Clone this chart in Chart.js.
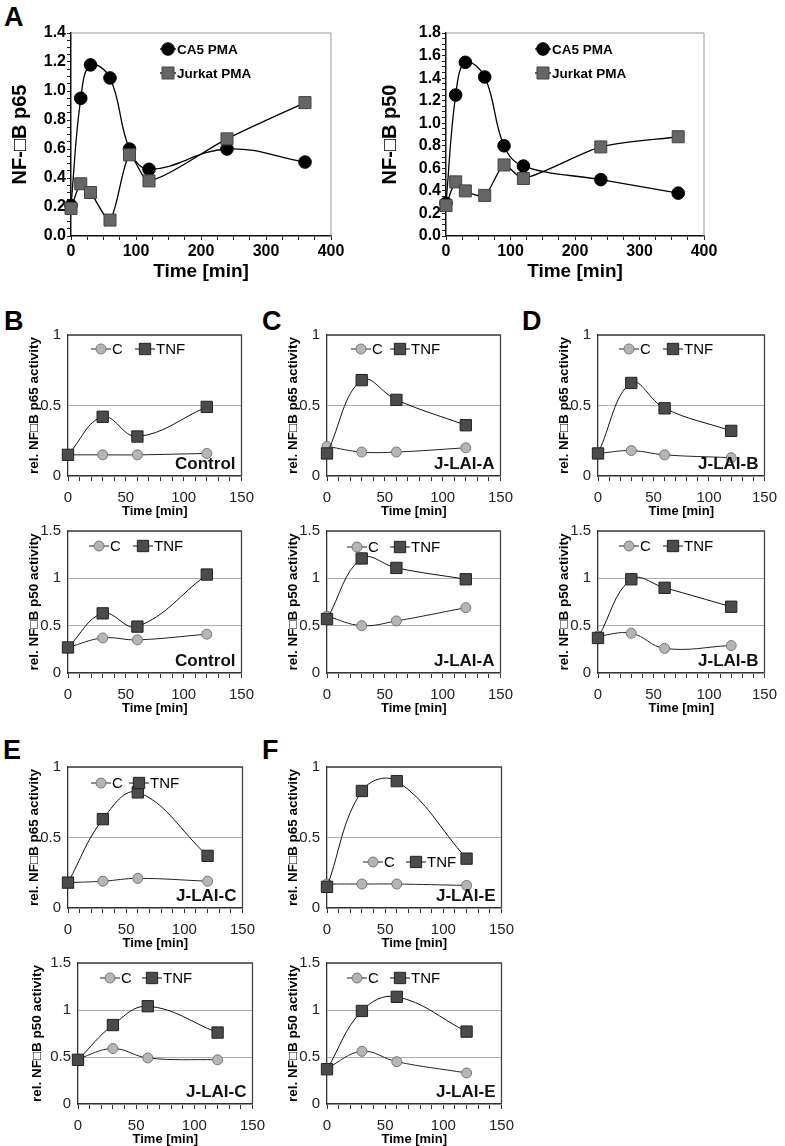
<!DOCTYPE html>
<html>
<head>
<meta charset="utf-8">
<script src="https://cdn.jsdelivr.net/npm/chart.js@4.4.1/dist/chart.umd.min.js"></script>
<style>
body{margin:0;background:#fff;}
#fig{position:relative;width:785px;height:1146px;overflow:hidden;background:#fff;}
.lab{position:absolute;font:bold 27px "Liberation Sans",Arial,sans-serif;line-height:1;color:#000;}
canvas{position:absolute;}
</style>
</head>
<body>
<div id="fig">
<div class="lab" style="left:4px;top:4px">A</div>
<div class="lab" style="left:4px;top:308px">B</div>
<div class="lab" style="left:262px;top:308px">C</div>
<div class="lab" style="left:522px;top:308px">D</div>
<div class="lab" style="left:3px;top:737px">E</div>
<div class="lab" style="left:262px;top:737px">F</div>
</div>
<script>
// panel A: PMA time course
var timeA = [0, 15, 30, 60, 90, 120, 240, 360];
var ca5P65 = [0.21, 0.95, 1.18, 1.09, 0.60, 0.46, 0.60, 0.51];
var jurkatP65 = [0.19, 0.36, 0.30, 0.11, 0.56, 0.38, 0.67, 0.92];
var ca5P50 = [0.29, 1.25, 1.54, 1.41, 0.80, 0.62, 0.50, 0.38];
var jurkatP50 = [0.27, 0.48, 0.40, 0.36, 0.63, 0.51, 0.79, 0.88];

// panels B-F: TNF time course
var timeTnf = [0, 30, 60, 120];
var controlP65C = [0.15, 0.15, 0.15, 0.16];
var controlP65T = [0.15, 0.42, 0.28, 0.49];
var controlP50C = [0.27, 0.37, 0.35, 0.41];
var controlP50T = [0.27, 0.63, 0.49, 1.04];
var laiAP65C = [0.21, 0.17, 0.17, 0.20];
var laiAP65T = [0.16, 0.68, 0.54, 0.36];
var laiAP50C = [0.60, 0.50, 0.55, 0.69];
var laiAP50T = [0.57, 1.21, 1.11, 0.99];
var laiBP65C = [0.16, 0.18, 0.15, 0.13];
var laiBP65T = [0.16, 0.66, 0.48, 0.32];
var laiBP50C = [0.39, 0.42, 0.26, 0.29];
var laiBP50T = [0.37, 0.99, 0.90, 0.70];
var laiCP65C = [0.18, 0.19, 0.21, 0.19];
var laiCP65T = [0.18, 0.63, 0.82, 0.37];
var laiCP50C = [0.48, 0.59, 0.49, 0.47];
var laiCP50T = [0.47, 0.84, 1.04, 0.76];
var laiEP65C = [0.17, 0.17, 0.17, 0.16];
var laiEP65T = [0.15, 0.83, 0.90, 0.35];
var laiEP50C = [0.38, 0.56, 0.45, 0.33];
var laiEP50T = [0.37, 0.99, 1.14, 0.77];

var FONT = '"Liberation Sans", Arial, sans-serif';

function pts(xs, ys) {
  return xs.map(function(x, i) { return {x: x, y: ys[i]}; });
}

function isStep(v, step) {
  var q = v / step;
  return Math.abs(q - Math.round(q)) < 1e-6;
}

function drawMarker(ctx, ds, x, y) {
  ctx.fillStyle = ds.pointBackgroundColor;
  ctx.strokeStyle = ds.pointBorderColor;
  ctx.lineWidth = ds.pointBorderWidth;
  ctx.beginPath();
  if (ds.pointStyle == 'rect') {
    var s = ds.pointRadius * Math.SQRT1_2;
    ctx.rect(x - s, y - s, 2 * s, 2 * s);
  } else {
    ctx.arc(x, y, ds.pointRadius, 0, Math.PI * 2);
  }
  ctx.fill();
  ctx.stroke();
}

// frame, inside legend and sample tag
var deco = {
  id: 'deco',
  beforeDatasetsDraw: function(chart, args, o) {
    var a = chart.chartArea, ctx = chart.ctx;
    ctx.save();
    ctx.strokeStyle = o.frameColor;
    ctx.lineWidth = o.frameWidth;
    ctx.beginPath();
    ctx.moveTo(a.left, a.top);
    ctx.lineTo(a.right, a.top);
    ctx.lineTo(a.right, a.bottom);
    ctx.stroke();
    ctx.restore();
  },
  afterDatasetsDraw: function(chart, args, o) {
    var a = chart.chartArea, ctx = chart.ctx;
    ctx.save();
    (o.items || []).forEach(function(it) {
      var ds = chart.data.datasets[it.ds];
      var x = a.left + it.x, y = a.top + it.y;
      ctx.strokeStyle = ds.borderColor;
      ctx.lineWidth = ds.borderWidth;
      ctx.beginPath();
      ctx.moveTo(x - o.lineLen, y);
      ctx.lineTo(x + o.lineLen, y);
      ctx.stroke();
      drawMarker(ctx, ds, x, y);
      ctx.fillStyle = '#000';
      ctx.font = o.legendFont;
      ctx.textAlign = 'left';
      ctx.textBaseline = 'middle';
      ctx.fillText(ds.label, x + o.textGap, y + 1);
    });
    if (o.tag) {
      ctx.fillStyle = '#111';
      ctx.font = 'bold 17px ' + FONT;
      ctx.textAlign = 'right';
      ctx.textBaseline = 'middle';
      ctx.fillText(o.tag, a.right - 6, a.bottom - 12);
    }
    ctx.restore();
  }
};

function addCanvas(plot, L, T, R, B) {
  var w = plot[2] - plot[0] + L + R;
  var h = plot[3] - plot[1] + T + B;
  var canvas = document.createElement('canvas');
  canvas.width = w;
  canvas.height = h;
  canvas.style.left = (plot[0] - L) + 'px';
  canvas.style.top = (plot[1] - T) + 'px';
  canvas.style.width = w + 'px';
  canvas.style.height = h + 'px';
  document.getElementById('fig').appendChild(canvas);
  return canvas;
}

function bigPanel(p) {
  var L = p.L, T = 33, R = p.R, B = 54;
  var canvas = addCanvas(p.plot, L, T, R, B);
  new Chart(canvas, {
    type: 'line',
    data: { datasets: [
      { label: 'Jurkat PMA', data: pts(timeA, p.jurkat), borderColor: '#000', borderWidth: 1.3, tension: 0.25,
        pointStyle: 'rect', pointRadius: 8.5, pointHoverRadius: 8.5, pointBackgroundColor: '#666',
        pointBorderColor: '#444', pointBorderWidth: 1, clip: false },
      { label: 'CA5 PMA', data: pts(timeA, p.ca5), borderColor: '#000', borderWidth: 1.3, tension: 0.4,
        pointStyle: 'circle', pointRadius: 6.3, pointHoverRadius: 6.3, pointBackgroundColor: '#000',
        pointBorderColor: '#000', pointBorderWidth: 1, clip: false }
    ]},
    plugins: [deco],
    options: {
      responsive: false, animation: false, events: [],
      layout: { padding: {left: 0, top: T, right: R, bottom: 0}, autoPadding: false },
      plugins: {
        legend: {display: false}, tooltip: {enabled: false},
        deco: { frameColor: '#999', frameWidth: 1, lineLen: 8, textGap: 9, legendFont: 'bold 13.5px ' + FONT,
                items: [{ds: 1, x: 97, y: 16}, {ds: 0, x: 97, y: 40}] }
      },
      scales: {
        x: { type: 'linear', min: 0, max: 400,
          afterFit: function(s) { s.height = B; },
          ticks: { stepSize: 25, autoSkip: false, maxRotation: 0, padding: 2, color: '#000',
            font: {family: FONT, size: 16, weight: 'bold'},
            callback: function(v) { return isStep(v, 100) ? String(v) : ''; } },
          grid: { drawOnChartArea: false, tickLength: 4, color: '#222' },
          border: { color: '#111', width: 1.5 },
          title: { display: true, text: 'Time [min]', color: '#000',
            font: {family: FONT, size: 19, weight: 'bold', lineHeight: 1.2}, padding: {top: 0, bottom: 6.6} } },
        y: { min: 0, max: p.ymax,
          afterFit: function(s) { s.width = L; },
          ticks: { stepSize: 0.05, autoSkip: false, padding: 1, color: '#000',
            font: {family: FONT, size: 16, weight: 'bold'},
            callback: function(v) { return isStep(v, 0.2) ? v.toFixed(1) : ''; } },
          grid: { drawOnChartArea: false, tickLength: 4, color: '#222' },
          border: { color: '#111', width: 1.5 },
          title: { display: true, text: p.yt, color: '#000',
            font: {family: FONT, size: 20, weight: 'bold', lineHeight: 1.2}, padding: {top: p.ytPad, bottom: 0} } }
      }
    }
  });
}

function smallPanel(p) {
  var L = 68, T = 12, R = Math.min(20, 785 - p.plot[2]), B = 48;
  var canvas = addCanvas(p.plot, L, T, R, B);
  new Chart(canvas, {
    type: 'line',
    data: { datasets: [
      { label: 'TNF', data: pts(timeTnf, p.tnf), borderColor: '#111', borderWidth: 1, tension: 0.4,
        pointStyle: 'rect', pointRadius: 8, pointHoverRadius: 8, pointBackgroundColor: '#4b4b4b',
        pointBorderColor: '#222', pointBorderWidth: 1, clip: false },
      { label: 'C', data: pts(timeTnf, p.c), borderColor: '#222', borderWidth: 1, tension: 0.4,
        pointStyle: 'circle', pointRadius: 5, pointHoverRadius: 5, pointBackgroundColor: '#b5b5b5',
        pointBorderColor: '#777', pointBorderWidth: 1, clip: false }
    ]},
    plugins: [deco],
    options: {
      responsive: false, animation: false, events: [],
      layout: { padding: {left: 0, top: T, right: R, bottom: 0}, autoPadding: false },
      plugins: {
        legend: {display: false}, tooltip: {enabled: false},
        deco: { frameColor: '#444', frameWidth: 1.3, lineLen: 10, textGap: 11, legendFont: '15px ' + FONT,
                items: [{ds: 1, x: p.leg[0], y: p.leg[1]}, {ds: 0, x: p.leg[2], y: p.leg[1]}], tag: p.tag }
      },
      scales: {
        x: { type: 'linear', min: 0, max: 150,
          afterFit: function(s) { s.height = B; },
          ticks: { stepSize: 10, autoSkip: false, maxRotation: 0, padding: 8, color: '#222',
            font: {family: FONT, size: 15},
            callback: function(v) { return isStep(v, 50) ? String(v) : ''; } },
          grid: { drawOnChartArea: false, tickLength: 5, color: '#333' },
          border: { color: '#333', width: 1.3 },
          title: { display: true, text: 'Time [min]', color: '#000',
            font: {family: FONT, size: 13, weight: 'bold', lineHeight: 1.2}, padding: {top: 0, bottom: 5} } },
        y: { min: 0, max: p.ymax,
          afterFit: function(s) { s.width = L; },
          ticks: { stepSize: 0.5, padding: 7, color: '#222', font: {family: FONT, size: 15},
            callback: function(v) { return String(v); } },
          grid: { color: '#b0b0b0', drawTicks: false, lineWidth: 1 },
          border: { color: '#333', width: 1.3 },
          title: { display: true, text: p.yt, color: '#000',
            font: {family: FONT, size: 13.5, weight: 'bold', lineHeight: 1.2}, padding: {top: p.ytPad || 26, bottom: 0} } }
      }
    }
  });
}

bigPanel({plot: [71, 33, 331, 236], L: 71, R: 18, ymax: 1.4, yt: 'NF-\u25A1B p65', ytPad: 8, ca5: ca5P65, jurkat: jurkatP65});
bigPanel({plot: [446, 33, 704, 236], L: 86, R: 16, ymax: 1.8, yt: 'NF-\u25A1B p50', ytPad: 18, ca5: ca5P50, jurkat: jurkatP50});

var p65 = 'rel. NF\u25A1B p65 activity';
var p50 = 'rel. NF\u25A1B p50 activity';
var panels = [
  {plot: [68, 331, 242, 476], ymax: 1, yt: p65, c: controlP65C, tnf: controlP65T, tag: 'Control', leg: [33, 14, 77]},
  {plot: [68, 527, 242, 673], ymax: 1.5, yt: p50, c: controlP50C, tnf: controlP50T, tag: 'Control', leg: [31, 15, 75]},
  {plot: [327, 331, 501, 476], ymax: 1, yt: p65, c: laiAP65C, tnf: laiAP65T, tag: 'J-LAI-A', leg: [34, 14, 73]},
  {plot: [327, 527, 501, 673], ymax: 1.5, yt: p50, c: laiAP50C, tnf: laiAP50T, tag: 'J-LAI-A', leg: [30, 16, 73]},
  {plot: [598, 331, 773, 476], ymax: 1, yt: p65, c: laiBP65C, tnf: laiBP65T, tag: 'J-LAI-B', leg: [31, 14, 75]},
  {plot: [598, 527, 773, 673], ymax: 1.5, yt: p50, c: laiBP50C, tnf: laiBP50T, tag: 'J-LAI-B', leg: [31, 15, 75]},
  {plot: [68, 763, 243, 908], ymax: 1, yt: p65, c: laiCP65C, tnf: laiCP65T, tag: 'J-LAI-C', leg: [33, 16, 71]},
  {plot: [78, 959, 253, 1104], ymax: 1.5, yt: p50, c: laiCP50C, tnf: laiCP50T, tag: 'J-LAI-C', leg: [32, 15, 74], ytPad: 19},
  {plot: [327, 763, 502, 908], ymax: 1, yt: p65, c: laiEP65C, tnf: laiEP65T, tag: 'J-LAI-E', leg: [46, 95, 89]},
  {plot: [327, 959, 502, 1104], ymax: 1.5, yt: p50, c: laiEP50C, tnf: laiEP50T, tag: 'J-LAI-E', leg: [30, 15, 73]}
];
panels.forEach(smallPanel);
</script>
</body>
</html>
